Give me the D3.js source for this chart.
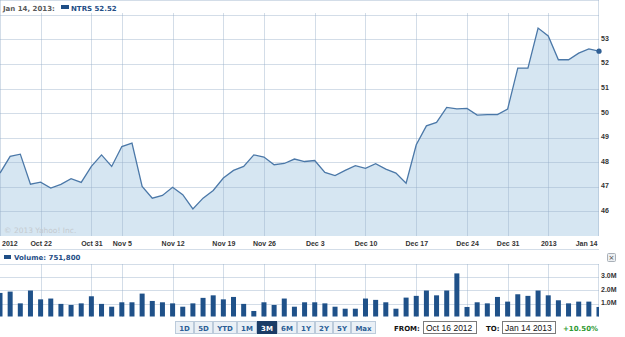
<!DOCTYPE html>
<html>
<head>
<meta charset="utf-8">
<script src="https://d3js.org/d3.v7.min.js"></script>
<style>
  body, html { margin: 0; background: #fff; }
  svg { display: block; font-family: 'DejaVu Sans', Verdana, sans-serif; }
  .lbl { font-size: 7px; font-weight: bold; fill: #333; }
  .grid line { stroke: rgba(150,175,200,0.42); stroke-width: 1px; shape-rendering: crispEdges; }
</style>
</head>
<body>
<script>
// trading days, Oct 16 2012 .. Jan 14 2013
var dates = [
  "2012-10-16","2012-10-17","2012-10-18","2012-10-19","2012-10-22","2012-10-23","2012-10-24","2012-10-25","2012-10-26","2012-10-31",
  "2012-11-01","2012-11-02","2012-11-05","2012-11-06","2012-11-07","2012-11-08","2012-11-09","2012-11-12","2012-11-13","2012-11-14",
  "2012-11-15","2012-11-16","2012-11-19","2012-11-20","2012-11-21","2012-11-23","2012-11-26","2012-11-27","2012-11-28","2012-11-29",
  "2012-11-30","2012-12-03","2012-12-04","2012-12-05","2012-12-06","2012-12-07","2012-12-10","2012-12-11","2012-12-12","2012-12-13",
  "2012-12-14","2012-12-17","2012-12-18","2012-12-19","2012-12-20","2012-12-21","2012-12-24","2012-12-26","2012-12-27","2012-12-28",
  "2012-12-31","2013-01-02","2013-01-03","2013-01-04","2013-01-07","2013-01-08","2013-01-09","2013-01-10","2013-01-11","2013-01-14"
];
var close = [
  47.56, 48.24, 48.33, 47.11, 47.19, 46.95, 47.10, 47.33, 47.18, 47.83,
  48.30, 47.83, 48.64, 48.78, 47.02, 46.54, 46.65, 46.98, 46.68, 46.10,
  46.54, 46.85, 47.36, 47.67, 47.83, 48.30, 48.21, 47.90, 47.95, 48.13,
  48.03, 48.07, 47.59, 47.46, 47.67, 47.86, 47.75, 47.94, 47.72, 47.56,
  47.15, 48.71, 49.48, 49.62, 50.23, 50.17, 50.19, 49.92, 49.94, 49.94,
  50.16, 51.83, 51.83, 53.46, 53.14, 52.17, 52.17, 52.44, 52.61, 52.52
];
// volume in millions
var volume = [
  1.80, 1.90, 1.02, 1.98, 1.32, 1.38, 0.98, 0.90, 1.02, 1.55,
  0.98, 0.77, 1.10, 1.10, 1.75, 1.20, 1.10, 1.02, 0.77, 1.02,
  1.43, 1.62, 1.32, 1.50, 0.98, 0.45, 1.10, 0.90, 1.38, 0.77,
  1.10, 1.10, 1.02, 0.77, 0.62, 0.62, 1.38, 1.28, 1.10, 0.62,
  1.45, 1.58, 1.98, 1.62, 1.98, 3.26, 0.75, 1.10, 1.02, 1.50,
  1.15, 1.70, 1.58, 1.98, 1.62, 1.25, 1.02, 1.15, 1.15, 0.75
];
var tickDates = ["2012-10-16","2012-10-22","2012-10-31","2012-11-05","2012-11-12","2012-11-19","2012-11-26",
                 "2012-12-03","2012-12-10","2012-12-17","2012-12-24","2012-12-31","2013-01-07","2013-01-14"];
var tickLabels = ["2012","Oct 22","Oct 31","Nov 5","Nov 12","Nov 19","Nov 26",
                  "Dec 3","Dec 10","Dec 17","Dec 24","Dec 31","2013","Jan 14"];
var priceTicks = [46, 47, 48, 49, 50, 51, 52, 53];
var volTicks = [1, 2, 3];
var ranges = ["1D","5D","YTD","1M","3M","6M","1Y","2Y","5Y","Max"];

var W = 599;
var svg = d3.select("body").append("svg").attr("width", 625).attr("height", 337);

var x = d3.scalePoint().domain(dates).range([0, W]);
var y = d3.scaleLinear().domain([45, 54.6]).range([236, 0]);
var yv = d3.scaleLinear().domain([0, 4]).range([317, 263.5]);

svg.append("defs").append("clipPath").attr("id", "clipP")
  .append("rect").attr("x", 0).attr("y", 0).attr("width", W).attr("height", 236);
svg.select("defs").append("clipPath").attr("id", "clipV")
  .append("rect").attr("x", 0).attr("y", 263.5).attr("width", W).attr("height", 53);

// price area + line
var area = d3.area().x(function(d, i) { return x(dates[i]); }).y0(236).y1(function(d) { return y(d); });
var line = d3.line().x(function(d, i) { return x(dates[i]); }).y(function(d) { return y(d); });

svg.append("path").datum(close).attr("clip-path", "url(#clipP)")
  .attr("d", area).attr("fill", "#d6e6f2");

// grid
var g = svg.append("g").attr("class", "grid");
g.selectAll(".v").data(tickDates.slice(1, -1)).enter().append("line")
  .attr("x1", function(d) { return Math.round(x(d)) + 0.5; })
  .attr("x2", function(d) { return Math.round(x(d)) + 0.5; })
  .attr("y1", 13).attr("y2", 236);
g.selectAll(".vv").data(tickDates.slice(1, -1)).enter().append("line")
  .attr("x1", function(d) { return Math.round(x(d)) + 0.5; })
  .attr("x2", function(d) { return Math.round(x(d)) + 0.5; })
  .attr("y1", 263.5).attr("y2", 317);
g.selectAll(".h").data(priceTicks.concat([54])).enter().append("line")
  .attr("x1", 0).attr("x2", W)
  .attr("y1", function(d) { return Math.round(y(d)) + 0.5; })
  .attr("y2", function(d) { return Math.round(y(d)) + 0.5; });
g.selectAll(".hv").data(volTicks.concat([4])).enter().append("line")
  .attr("x1", 0).attr("x2", W)
  .attr("y1", function(d) { return Math.round(yv(d)) + 0.5; })
  .attr("y2", function(d) { return Math.round(yv(d)) + 0.5; });
// frame
g.append("line").attr("x1", 0.5).attr("x2", 0.5).attr("y1", 0).attr("y2", 236);
g.append("line").attr("x1", W - 0.5).attr("x2", W - 0.5).attr("y1", 0).attr("y2", 236);
g.append("line").attr("x1", 0).attr("x2", W).attr("y1", 0.5).attr("y2", 0.5);
g.append("line").attr("x1", W - 0.5).attr("x2", W - 0.5).attr("y1", 263.5).attr("y2", 317);
g.append("line").attr("x1", 0).attr("x2", W).attr("y1", 249.5).attr("y2", 249.5);

svg.append("path").datum(close).attr("clip-path", "url(#clipP)")
  .attr("d", line).attr("fill", "none").attr("stroke", "#4b78a8").attr("stroke-width", 1.3);
svg.append("circle").attr("cx", x(dates[dates.length - 1])).attr("cy", y(close[close.length - 1]))
  .attr("r", 2.6).attr("fill", "#2f5f94");

// copyright
svg.append("text").attr("x", 4).attr("y", 233).attr("font-size", 7.5)
  .attr("fill", "#c4cad0").text("\u00a9 2013 Yahoo! Inc.");

// header
svg.append("text").attr("class", "lbl").attr("x", 3).attr("y", 10.5).style("fill", "#5a5a5a").text("Jan 14, 2013:");
svg.append("rect").attr("x", 61).attr("y", 5).attr("width", 8).attr("height", 4).attr("fill", "#1f4e86");
svg.append("text").attr("class", "lbl").attr("x", 71).attr("y", 10.5).style("fill", "#1f4e86").text("NTRS 52.52");

// right axes
var ay = svg.append("g").attr("transform", "translate(" + (W + 1) + ",0)")
  .call(d3.axisRight(y).tickValues(priceTicks).tickSize(0).tickPadding(1));
var av = svg.append("g").attr("transform", "translate(" + (W + 1) + ",0)")
  .call(d3.axisRight(yv).tickValues(volTicks).tickSize(0).tickPadding(1)
    .tickFormat(function(d) { return d.toFixed(1) + "M"; }));
[ay, av].forEach(function(a) {
  a.select(".domain").remove();
  a.selectAll("text").attr("class", "lbl").attr("dy", "0.15em").attr("font-family", null).attr("font-size", null);
});

// x axis
var ax = svg.append("g").attr("transform", "translate(0,236)")
  .call(d3.axisBottom(x).tickValues(tickDates).tickSize(0).tickPadding(5)
    .tickFormat(function(d, i) { return tickLabels[i]; }));
ax.select(".domain").remove();
ax.selectAll("text").attr("class", "lbl").attr("font-family", null).attr("font-size", null)
  .attr("text-anchor", function(d, i) { return i === 0 ? "start" : (i === tickDates.length - 1 ? "end" : "middle"); })
  .attr("dx", function(d, i) { return i === 0 ? 1.5 : (i === tickDates.length - 1 ? -2 : 0); });

// volume header
svg.append("rect").attr("x", 4).attr("y", 255).attr("width", 7).attr("height", 4).attr("fill", "#1f4e86");
svg.append("text").attr("class", "lbl").attr("x", 14).attr("y", 260).style("fill", "#1f4e86").text("Volume: 751,800");
svg.append("rect").attr("x", 607.5).attr("y", 253.5).attr("width", 8).attr("height", 8).attr("rx", 1)
  .attr("fill", "#eceff2").attr("stroke", "#a9b0b8");
svg.append("text").attr("x", 611.5).attr("y", 260).attr("text-anchor", "middle").attr("font-size", 7)
  .attr("fill", "#444").text("\u00d7");

// volume bars
svg.append("g").attr("clip-path", "url(#clipV)").selectAll("rect").data(volume).enter().append("rect")
  .attr("x", function(d, i) { return x(dates[i]) - 2.5; })
  .attr("width", 5)
  .attr("y", function(d) { return yv(d); })
  .attr("height", function(d) { return yv(0) - yv(d); })
  .attr("fill", "#1f5189");

// range buttons
var bx = 175;
var btns = svg.append("g");
ranges.forEach(function(r) {
  var b = btns.append("g");
  var t = b.append("text").attr("class", "lbl").attr("y", 330.5).text(r);
  var w = Math.round(t.node().getComputedTextLength() + 7.5);
  var sel = r === "3M";
  b.insert("rect", "text").attr("x", bx + 0.5).attr("y", 321.5).attr("width", w).attr("height", 12)
    .attr("fill", sel ? "#1b3c66" : "#eaf0f6").attr("stroke", sel ? "#1b3c66" : "#bccbdb");
  t.attr("x", bx + 0.5 + w / 2).attr("text-anchor", "middle").style("fill", sel ? "#fff" : "#2d5f96");
  bx += w + 1;
});

// date range inputs
svg.append("text").attr("class", "lbl").attr("x", 394).attr("y", 330.5).style("fill", "#111").text("FROM:");
svg.append("rect").attr("x", 423.5).attr("y", 321.5).attr("width", 53).attr("height", 12)
  .attr("fill", "#fff").attr("stroke", "#7a7a7a");
svg.append("text").attr("x", 426).attr("y", 331).attr("font-family", "'Liberation Sans', Arial, sans-serif")
  .attr("font-size", 8.5).attr("fill", "#111").text("Oct 16 2012");
svg.append("text").attr("class", "lbl").attr("x", 486).attr("y", 330.5).style("fill", "#111").text("TO:");
svg.append("rect").attr("x", 502.5).attr("y", 321.5).attr("width", 53).attr("height", 12)
  .attr("fill", "#fff").attr("stroke", "#7a7a7a");
svg.append("text").attr("x", 505).attr("y", 331).attr("font-family", "'Liberation Sans', Arial, sans-serif")
  .attr("font-size", 8.5).attr("fill", "#111").text("Jan 14 2013");
svg.append("text").attr("class", "lbl").attr("x", 563).attr("y", 330.5).style("fill", "#2f9a33").text("+10.50%");
</script>
</body>
</html>
